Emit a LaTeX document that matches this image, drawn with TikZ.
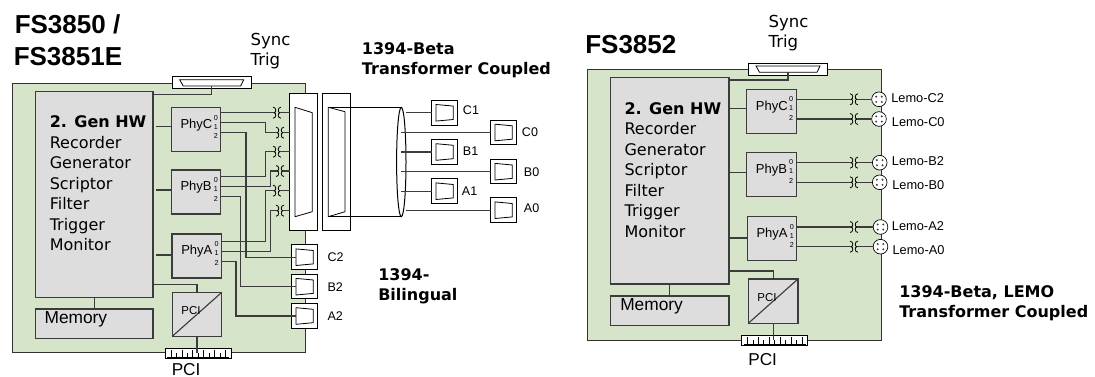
\documentclass[tikz,border=0pt]{standalone}
\usepackage{fontspec}
\setmainfont{Liberation Sans}
\newfontfamily\versa{DejaVu Sans}
\usetikzlibrary{calc}
\definecolor{boardgreen}{HTML}{D6E5C9}
\definecolor{blockgray}{HTML}{DDDDDD}
\definecolor{edgegray}{HTML}{3C3C3C}
\tikzset{
	block/.style 2 args={draw=edgegray,line width=0.9pt,fill=blockgray,inner sep=0,outer sep=0,minimum width=#1*0.75pt,minimum height=#2*0.75pt},
	plate/.style 2 args={draw=black,line width=0.75pt,fill=white,inner sep=0,outer sep=0,minimum width=#1*0.75pt,minimum height=#2*0.75pt},
	wire/.style={draw=edgegray,line width=0.85pt},
	label/.style={anchor=west,inner sep=0,font=\fontsize{9.4}{11}\selectfont},
	heading/.style={anchor=west,inner sep=0,font=\versa\bfseries\fontsize{12}{15}\selectfont,align=left},
	title/.style={anchor=west,inner sep=0,font=\bfseries\fontsize{19.5}{24}\selectfont},
	pics/coupler/.style={code={
		\draw[line width=0.6pt] (-4,-5.5) .. controls (-0.5,-5.5) and (-0.5,0) .. (-3,0) .. controls (-0.5,0) and (-0.5,5.5) .. (-4,5.5);
		\draw[line width=0.6pt] (4,-5.5) .. controls (0.5,-5.5) and (0.5,0) .. (3,0) .. controls (0.5,0) and (0.5,5.5) .. (4,5.5);
		\coordinate (-w) at (-3,0);
		\coordinate (-e) at (3,0);
	}},
}
\newcommand{\phyblock}[4]{
	\node[block={49.5}{44},anchor=north west] (#1) at (#3,#4) {};
	\node[anchor=west,inner sep=0,font=\fontsize{9.75}{11}\selectfont] (#1t) at (#3+9,#4+17.5) {#2};
	\foreach\p/\o in{0/10,1/19,2/28.5} {\node[inner sep=0,font=\fontsize{5.4}{6}\selectfont] (#1p\p) at (#3+44.5,#4+\o) {\p};}
}
\newcommand{\smallconn}[3]{
	\node[plate={26}{24.5}] (#1) at (#2,#3) {};
	\draw[line width=0.6pt] ([shift={(-8.7,-8.3)}]#1.center) -- ([shift={(8.6,-6.7)}]#1.center) -- ([shift={(8.6,6.7)}]#1.center) -- ([shift={(-8.7,8.3)}]#1.center) -- cycle;
}
\newcommand{\syncconn}[3]{
	\node[plate={79}{12}] (#1) at (#2,#3) {};
	\draw[line width=0.6pt] ([shift={(-32,-3.3)}]#1.center) -- ([shift={(32,-3.3)}]#1.center) -- ([shift={(29,3)}]#1.center) -- ([shift={(-28.5,3)}]#1.center) -- cycle;
}
\newcommand{\pciconn}[3]{
	\node[plate={65.5}{10}] (#1) at (#2,#3) {};
	\foreach\i in{1,...,11} {\pgfmathsetmacro\h{isodd(\i)?7:4.5}
		\draw[line width=0.5pt] ([shift={(-32.75+\i*5.45,4)}]#1.center) -- ([shift={(-32.75+\i*5.45,4-\h)}]#1.center);}
	\draw[line width=0.5pt] ([shift={(-31,4)}]#1.center) -- ([shift={(31,4)}]#1.center);
}
\newcommand{\lemo}[3]{
	\node[circle,draw=black,line width=0.5pt,fill=white,inner sep=0,minimum size=11pt] (#1) at (#2,#3) {};
	\foreach\a in{-2.8,2.8} {\foreach\b in{-2.6,2.6} {\fill[edgegray] ([shift={(\a,\b)}]#1.center) circle (0.8pt);}}
}
\begin{document}
\begin{tikzpicture}[x=0.75pt,y=-0.75pt]
	\useasboundingbox (0,0) rectangle (1095,377);
	% left board
	\node[plate={292.5}{269},fill=boardgreen,draw=black!80,anchor=north west] (boardl) at (12.5,84) {};
	\node[title] (titlela) at (14.5,24) {FS3850 /};
	\node[title] (titlelb) at (13.5,57) {FS3851E};
	\node[anchor=west,inner sep=0,align=left,font=\versa\fontsize{12.4}{15.6}\selectfont] (syncl) at (250.3,51) {Sync\\Trig};
	\syncconn{connl}{211.7}{83}
	\node[block={117.5}{205.5},anchor=north west] (mainl) at (35.5,91.7) {};
	\node[anchor=west,inner sep=0,align=left,font=\versa\fontsize{12}{15.35}\selectfont] (mainlt) at (49.5,183.3) {\textbf{2. Gen HW}\\Recorder\\Generator\\Scriptor\\Filter\\Trigger\\Monitor};
	\node[block={117.5}{29.5},anchor=north west] (memoryl) at (35.5,309) {};
	\node[anchor=west,inner sep=0,font=\fontsize{13}{15}\selectfont] (memorylt) at (44.3,319.8) {Memory};
	\draw[wire] (mainl.south) -- (memoryl.north);
	\phyblock{phycl}{PhyC}{171.3}{107.7}
	\phyblock{phybl}{PhyB}{171.3}{170}
	\phyblock{phyal}{PhyA}{172}{234}
	\foreach\n/\y in{phycl/126.7,phybl/190,phyal/255} {\draw[wire] ([xshift=2.25pt]mainl.east |- 0,\y) -- (\n.west |- 0,\y);}
	\draw[wire] (mainl.east |- 0,94.3) -| ([yshift=-2.25pt]connl.center);
	\node[block={49.5}{44},anchor=north west] (pcil) at (172.3,292.3) {};
	\draw[wire] (pcil.south west) -- (pcil.north east);
	\node[inner sep=0,font=\fontsize{8.6}{10}\selectfont] (pcilt) at (191,310.7) {PCI};
	\draw[wire] (mainl.east |- 0,284.7) -| (pcil.north);
	\pciconn{pciconnl}{198.3}{353.5}
	\draw[wire] (pcil.south) -- (pcil.south |- pciconnl.center);
	\node[anchor=west,inner sep=0,font=\fontsize{12.9}{15}\selectfont] (pcilabl) at (171.5,369.8) {PCI};
	% wires to the couplers
	\foreach\n/\x/\y in{k1/277/112.7,k2/280/132.7,k3/277/151.7,k4/280/171,k5/277/190.7,k6/280/210.7} {\pic (\n) at (\x,\y) {coupler};}
	\coordinate (c0) at (220.8,112.7);
	\coordinate (c1) at (220.8,122.7);
	\coordinate (c2) at (220.8,132.7);
	\coordinate (b0) at (220.8,176.7);
	\coordinate (b1) at (220.8,186.7);
	\coordinate (b2) at (220.8,196.7);
	\coordinate (a0) at (221.5,241.7);
	\coordinate (a1) at (221.5,251.7);
	\coordinate (a2) at (221.5,261.2);
	\draw[wire] (c0) -- (k1-w);
	\draw[wire] (c1) -| (265.7,132.7) -- (k2-w);
	\draw[wire] (b0) -| (265.7,151.7) -- (k3-w);
	\draw[wire] (b1) -| (270.7,171) -- (k4-w);
	\draw[wire] (a0) -| (265.7,190.7) -- (k5-w);
	\draw[wire] (a1) -| (270.7,210.7) -- (k6-w);
	% big connectors and cable
	\node[plate={27.6}{137},anchor=north west] (bigl) at (289.7,93.3) {};
	\node[plate={27.6}{137},anchor=north west] (bigr) at (322.7,93.3) {};
	\foreach\n in{1,...,6} {\draw[wire] (k\n-e) -- (k\n-e -| bigl.west);}
	\draw[line width=0.6pt] (295,107.3) -- (312.3,112.7) -- (312.3,211.7) -- (295,216.7) -- cycle;
	\draw[line width=0.6pt] (328.3,107.3) -- (345,111.7) -- (345,211.7) -- (328.3,216.7) -- cycle;
	\coordinate (cable) at (401.3,162);
	\draw[line width=0.75pt] (328.3,107.3) -- (401.3,107.3);
	\draw[line width=0.75pt] (328.3,216.7) -- (401.3,216.7);
	\draw[line width=0.75pt] (cable) circle (4.7 and 54.7);
	% output connectors
	\smallconn{cc1}{444.7}{112.8}
	\smallconn{cc0}{503.7}{132.5}
	\smallconn{cb1}{444.7}{152}
	\smallconn{cb0}{503.7}{171.7}
	\smallconn{ca1}{444.7}{191.2}
	\smallconn{ca0}{503.7}{210.2}
	\smallconn{cc2}{304.7}{257.2}
	\smallconn{cb2}{304.7}{286.7}
	\smallconn{ca2}{304.7}{316}
	\draw[wire] ([xshift=3.5pt]cable |- cc1.west) -- (cc1.west);
	\draw[wire] ([xshift=3.5pt]cable |- ca0.west) -- (ca0.west);
	\foreach\n in{cc0,cb1,cb0,ca1} {\draw[wire] (cable |- \n.west) -- (\n.west);}
	\draw[wire] (c2) -| (246,257.2) -- ([xshift=3pt]cc2.west);
	\draw[wire] (b2) -| (240.7,286.7) -- ([xshift=3pt]cb2.west);
	\draw[wire] (a2) -| (236,316) -- ([xshift=3pt]ca2.west);
	\node[label] (lc1) at (462.7,110) {C1};
	\node[label] (lc0) at (521.7,132) {C0};
	\node[label] (lb1) at (462.7,150.7) {B1};
	\node[label] (lb0) at (523.7,172) {B0};
	\node[label] (la1) at (461.7,191) {A1};
	\node[label] (la0) at (523.7,208) {A0};
	\node[label] (lc2) at (327.3,257.3) {C2};
	\node[label] (lb2) at (327.3,286.7) {B2};
	\node[label] (la2) at (327.3,316) {A2};
	\node[heading] (betal) at (361.7,60) {1394-Beta\\Transformer Coupled};
	\node[heading] (biling) at (378,286) {1394-\\Bilingual};
	% right board
	\node[plate={294.4}{270.3},fill=boardgreen,draw=black!80,anchor=north west] (boardr) at (587.3,70) {};
	\node[title] (titler) at (585,45) {FS3852};
	\node[anchor=west,inner sep=0,align=left,font=\versa\fontsize{12.4}{15.6}\selectfont] (syncr) at (768.3,33) {Sync\\Trig};
	\syncconn{connr}{788}{69.3}
	\node[block={118.3}{206.3},anchor=north west] (mainr) at (610.7,77.7) {};
	\node[anchor=west,inner sep=0,align=left,font=\versa\fontsize{12}{15.4}\selectfont] (mainrt) at (624.3,169.8) {\textbf{2. Gen HW}\\Recorder\\Generator\\Scriptor\\Filter\\Trigger\\Monitor};
	\node[block={118.3}{29.7},anchor=north west] (memoryr) at (610.7,296) {};
	\node[anchor=west,inner sep=0,font=\fontsize{13}{15}\selectfont] (memoryrt) at (620,306.3) {Memory};
	\draw[wire] (mainr.south) -- (memoryr.north);
	\phyblock{phycr}{PhyC}{746.7}{89.3}
	\phyblock{phybr}{PhyB}{746.7}{152.3}
	\phyblock{phyar}{PhyA}{747.3}{216.7}
	\foreach\n/\y in{phycr/108.7,phybr/172.7,phyar/238} {\draw[wire] (mainr.east |- 0,\y) -- (\n.west |- 0,\y);}
	\draw[wire] (mainr.east |- 0,80) -| ([yshift=-2.25pt]connr.center);
	\node[block={49.7}{44.3},anchor=north west] (pcir) at (748.3,279) {};
	\draw[wire] (pcir.south west) -- (pcir.north east);
	\node[inner sep=0,font=\fontsize{8.6}{10}\selectfont] (pcirt) at (767,297.3) {PCI};
	\draw[wire] (mainr.east |- 0,271) -| (pcir.north);
	\pciconn{pciconnr}{774.7}{340.3}
	\draw[wire] (pcir.south) -- (pcir.south |- pciconnr.center);
	\node[anchor=west,inner sep=0,font=\fontsize{12.9}{15}\selectfont] (pcilabr) at (748,360) {PCI};
	% lemo side
	\foreach\n/\x/\y/\t/\lx/\ly in{
		c2/879/99.3/Lemo-C2/891/98.3,
		c0/879/119/Lemo-C0/891.7/121.7,
		b2/879.7/162.7/Lemo-B2/891.7/161,
		b0/879.7/182.3/Lemo-B0/892/185,
		a2/880.5/227/Lemo-A2/891.7/225.7,
		a0/880.5/246.7/Lemo-A0/892.3/250} {
		\pic (kr\n) at (854,\y) {coupler};
		\lemo{lemo\n}{\x}{\y}
		\draw[wire] (kr\n-e) -- (lemo\n.west);
		\node[anchor=west,inner sep=0,font=\fontsize{9.6}{11}\selectfont] (tl\n) at (\lx,\ly) {\t};
	}
	\foreach\n/\m in{c2/phycr,c0/phycr,b2/phybr,b0/phybr,a2/phyar,a0/phyar} {\draw[wire] (\m.east |- kr\n-w) -- (kr\n-w);}
	\node[heading] (betar) at (899,303.7) {1394-Beta, LEMO\\Transformer Coupled};
\end{tikzpicture}
\end{document}
